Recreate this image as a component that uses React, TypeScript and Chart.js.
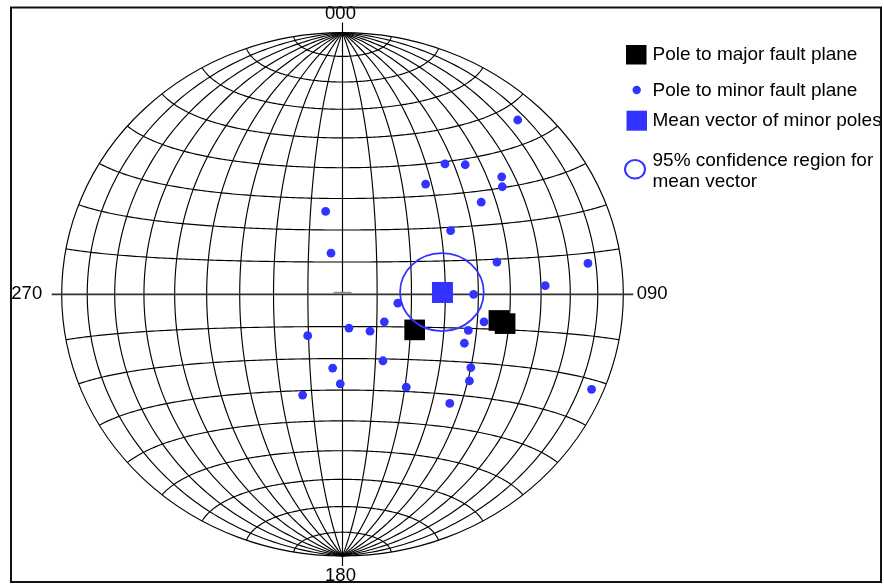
import { useEffect, useRef } from "react";
import { Chart, registerables } from "chart.js";

Chart.register(...registerables);

// Net coordinates (equal-area projection, unit primitive circle)
const minorX = [0.624, 0.365, 0.437, 0.567, 0.569, 0.296, 0.494, -0.06, 0.385, -0.041, 0.55, 0.874, 0.722, 0.467, 0.197, 0.149, 0.023, 0.098, -0.124, 0.504, 0.448, 0.434, 0.144, 0.457, -0.035, 0.452, -0.008, 0.227, 0.887, -0.142, 0.382];
const minorY = [0.666, 0.498, 0.495, 0.449, 0.411, 0.421, 0.352, 0.317, 0.243, 0.157, 0.123, 0.118, 0.033, 0.0, -0.034, -0.105, -0.129, -0.141, -0.158, -0.105, -0.138, -0.187, -0.254, -0.28, -0.282, -0.331, -0.342, -0.355, -0.363, -0.385, -0.417];
const majorX = [0.257, 0.557, 0.579];
const majorY = [-0.136, -0.1, -0.112];
const meanX = [0.356];
const meanY = [0.007];
const confCenterX = 0.354;
const confCenterY = 0.008;
const confRadius = 0.149;
const directionLabels = ["000", "090", "180", "270"];
const legendLabels = [
  "Pole to major fault plane",
  "Pole to minor fault plane",
  "Mean vector of minor poles",
  "95% confidence region for",
  "mean vector",
];
const gridStepDeg = 10;

const BLUE = "#3333ff";
const FONT_LEGEND = '19px "Liberation Sans", Arial, sans-serif';
const FONT_AXIS = '18.5px "Liberation Sans", Arial, sans-serif';

function proj(lamDeg: number, phiDeg: number): [number, number] {
  const lam = (lamDeg * Math.PI) / 180;
  const phi = (phiDeg * Math.PI) / 180;
  const d = 1 + Math.cos(phi) * Math.cos(lam);
  const k = Math.sqrt(1 / d);
  return [k * Math.cos(phi) * Math.sin(lam), k * Math.sin(phi)];
}

const netPlugin = {
  id: "net",
  beforeDatasetsDraw(chart: any) {
    const { ctx } = chart;
    const xs = chart.scales.x;
    const ys = chart.scales.y;
    const px = (v: number) => xs.getPixelForValue(v);
    const py = (v: number) => ys.getPixelForValue(v);
    ctx.save();
    ctx.strokeStyle = "#000";
    ctx.lineWidth = 1.15;
    // meridians (great circles)
    for (let l = -90 + gridStepDeg; l < 90; l += gridStepDeg) {
      if (l === 0) continue;
      ctx.beginPath();
      for (let p = -90; p <= 90; p += 1) {
        const [x, y] = proj(l, p);
        if (p === -90) ctx.moveTo(px(x), py(y));
        else ctx.lineTo(px(x), py(y));
      }
      ctx.stroke();
    }
    // small circles
    for (let p = -90 + gridStepDeg; p < 90; p += gridStepDeg) {
      if (p === 0) continue;
      ctx.beginPath();
      for (let l = -90; l <= 90; l += 1) {
        const [x, y] = proj(l, p);
        if (l === -90) ctx.moveTo(px(x), py(y));
        else ctx.lineTo(px(x), py(y));
      }
      ctx.stroke();
    }
    // primitive
    ctx.beginPath();
    ctx.ellipse(px(0), py(0), px(1) - px(0), py(-1) - py(0), 0, 0, Math.PI * 2);
    ctx.stroke();
    // central meridian with ticks
    ctx.beginPath();
    ctx.moveTo(px(0), py(1) - 10);
    ctx.lineTo(px(0), py(-1) + 10);
    ctx.stroke();
    // equator with ticks
    ctx.strokeStyle = "#333";
    ctx.lineWidth = 1.8;
    ctx.beginPath();
    ctx.moveTo(px(-1) - 10, py(0));
    ctx.lineTo(px(1) + 10, py(0));
    ctx.stroke();
    // center mark
    ctx.strokeStyle = "#8a8a8a";
    ctx.lineWidth = 2;
    ctx.beginPath();
    ctx.moveTo(px(0) - 9, py(0) - 1.5);
    ctx.lineTo(px(0) + 9, py(0) - 1.5);
    ctx.stroke();
    ctx.restore();
  },
  afterDatasetsDraw(chart: any) {
    const { ctx } = chart;
    const xs = chart.scales.x;
    const ys = chart.scales.y;
    const cx = xs.getPixelForValue(confCenterX);
    const cy = ys.getPixelForValue(confCenterY);
    const rx = Math.abs(xs.getPixelForValue(confRadius) - xs.getPixelForValue(0));
    const ry = Math.abs(ys.getPixelForValue(confRadius) - ys.getPixelForValue(0));
    ctx.save();
    ctx.strokeStyle = BLUE;
    ctx.lineWidth = 1.8;
    ctx.beginPath();
    ctx.ellipse(cx, cy, rx, ry, 0, 0, Math.PI * 2);
    ctx.stroke();
    ctx.restore();
  },
  afterDraw(chart: any) {
    const { ctx } = chart;
    const xs = chart.scales.x;
    const ys = chart.scales.y;
    const px = (v: number) => xs.getPixelForValue(v);
    const py = (v: number) => ys.getPixelForValue(v);
    ctx.save();
    ctx.fillStyle = "#000";
    ctx.font = FONT_AXIS;
    ctx.textBaseline = "middle";
    ctx.textAlign = "center";
    ctx.fillText(directionLabels[0], px(0) - 2, py(1) - 19);
    ctx.fillText(directionLabels[2], px(0) - 2, py(-1) + 19.5);
    ctx.textAlign = "left";
    ctx.fillText(directionLabels[1], px(1) + 13.4, py(0));
    ctx.textAlign = "right";
    ctx.fillText(directionLabels[3], px(-1) - 19.5, py(0));

    // legend
    const lx = 626;
    const tx = 652.5;
    ctx.font = FONT_LEGEND;
    ctx.textAlign = "left";
    ctx.fillStyle = "#000";
    ctx.fillRect(lx, 45, 20.5, 19.5);
    ctx.fillText(legendLabels[0], tx, 54.5);
    ctx.fillStyle = BLUE;
    ctx.beginPath();
    ctx.arc(636.7, 90, 4.2, 0, Math.PI * 2);
    ctx.fill();
    ctx.fillStyle = "#000";
    ctx.fillText(legendLabels[1], tx, 91);
    ctx.fillStyle = BLUE;
    ctx.fillRect(lx + 0.5, 110.7, 20.5, 20);
    ctx.fillStyle = "#000";
    ctx.fillText(legendLabels[2], tx, 121);
    ctx.strokeStyle = BLUE;
    ctx.lineWidth = 2;
    ctx.beginPath();
    ctx.ellipse(635, 169.3, 10, 9.3, 0, 0, Math.PI * 2);
    ctx.stroke();
    ctx.fillText(legendLabels[3], tx, 160.7);
    ctx.fillText(legendLabels[4], tx, 181.7);

    // frame
    ctx.strokeStyle = "#111";
    ctx.lineWidth = 2;
    ctx.strokeRect(11, 7.5, 870, 574.5);
    ctx.restore();
  },
};

function toPoints(xs: number[], ys: number[]) {
  return xs.map((x, i) => ({ x, y: ys[i] }));
}

export default function App() {
  const ref = useRef<HTMLCanvasElement | null>(null);
  useEffect(() => {
    if (!ref.current) return;
    const chart = new Chart(ref.current, {
      type: "scatter",
      data: {
        datasets: [
          {
            label: legendLabels[2],
            data: toPoints(meanX, meanY),
            pointStyle: "rect",
            pointRadius: 14.85,
            backgroundColor: BLUE,
            borderWidth: 0,
            order: 1,
          },
          {
            label: legendLabels[0],
            data: toPoints(majorX, majorY),
            pointStyle: "rect",
            pointRadius: 14.6,
            backgroundColor: "#000",
            borderWidth: 0,
            order: 2,
          },
          {
            label: legendLabels[1],
            data: toPoints(minorX, minorY),
            pointStyle: "circle",
            pointRadius: 4.4,
            backgroundColor: BLUE,
            borderWidth: 0,
            order: 3,
          },
        ],
      },
      options: {
        animation: false,
        responsive: false,
        devicePixelRatio: 1,
        layout: { padding: { left: 61.7, right: 260.7, top: 32.6, bottom: 28 } },
        scales: {
          x: { type: "linear", min: -1, max: 1, display: false },
          y: { type: "linear", min: -1, max: 1, display: false },
        },
        plugins: {
          legend: { display: false },
          tooltip: { enabled: false },
        },
        datasets: { scatter: { clip: false } as any },
      } as any,
      plugins: [netPlugin],
    });
    return () => chart.destroy();
  }, []);
  return (
    <div style={{ position: "absolute", left: 0, top: 0, width: 884, height: 584, background: "#fff" }}>
      <canvas ref={ref} width={884} height={584} style={{ display: "block", width: 884, height: 584 }} />
    </div>
  );
}
